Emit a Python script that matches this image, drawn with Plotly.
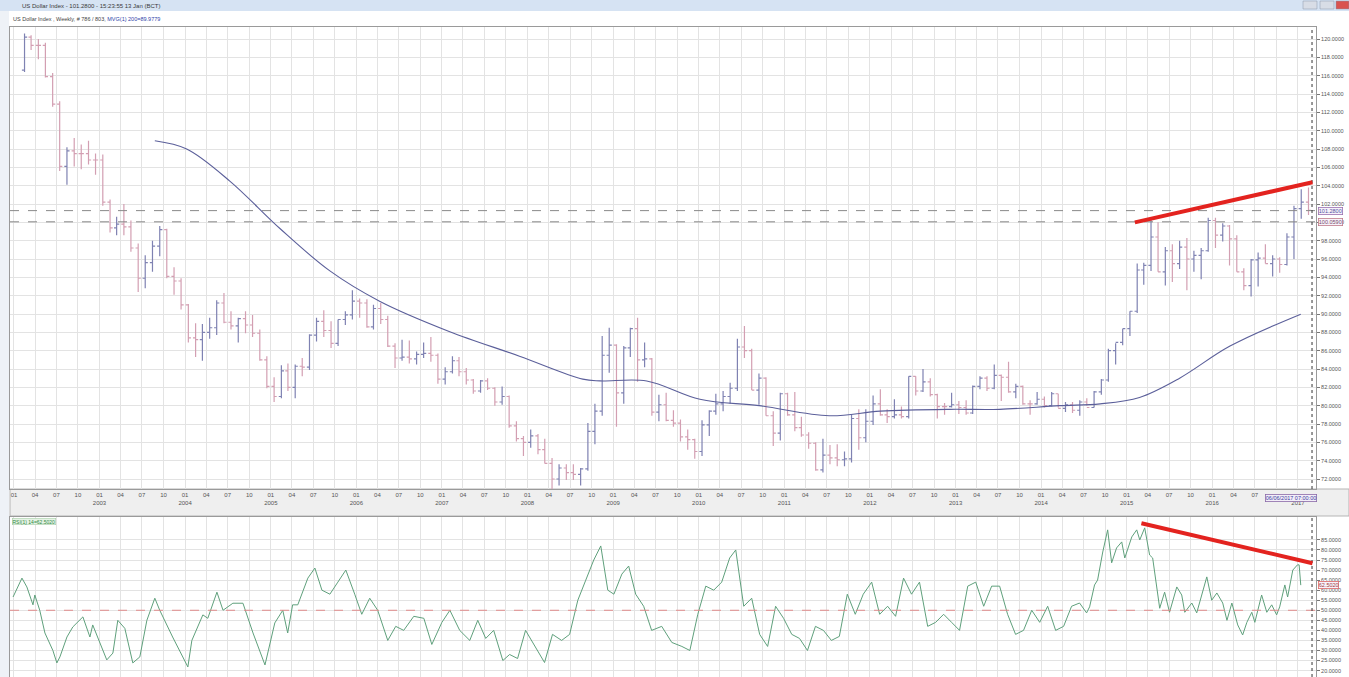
import plotly.graph_objects as go
import pandas as pd

W, H = 1349, 677
ML, MR = 10, 33

# ---------------- data ----------------
# monthly OHLC of the US Dollar Index, Jan 2002 .. Jan 2017
price_open = [
    116.6,120.2,119.3,119.3,115.9,112.9,106.1,107.8,107.5,107.5,106.8,106.8,
    102.2,99.4,99.8,99.5,97.2,93.9,95.6,97.4,99.2,94.1,93.6,91.0,
    87.4,87.2,88.0,88.5,91.2,89.1,88.7,89.5,88.8,87.9,85.0,82.1,
    81.0,83.8,82.0,84.3,84.2,87.7,89.2,88.2,86.8,89.4,89.9,91.4,
    91.2,88.6,90.6,89.4,86.5,85.2,85.3,85.1,85.6,85.7,85.5,82.9,
    83.7,84.9,83.7,82.8,81.6,82.7,81.9,80.4,81.0,77.8,76.4,76.0,
    76.7,75.2,73.7,72.0,73.2,72.7,72.5,73.1,77.2,79.4,85.5,86.6,
    81.4,86.3,88.4,85.0,85.1,79.3,80.1,78.4,78.1,76.6,76.3,75.0,
    77.9,79.4,80.2,81.0,81.9,86.4,86.0,81.7,83.0,78.9,77.0,81.3,
    79.0,77.6,76.8,75.9,73.0,74.6,74.3,74.1,74.2,78.6,76.5,78.3,
    80.2,79.0,78.8,79.0,78.8,83.2,81.6,82.6,81.2,79.9,79.9,80.1,
    79.8,79.2,82.1,83.0,81.9,83.3,83.1,81.5,82.1,80.2,80.2,80.7,
    80.0,81.3,79.7,80.1,79.5,80.4,79.8,81.5,82.8,86.0,86.9,88.4,
    90.3,94.8,95.3,98.4,94.6,96.9,95.5,97.3,96.0,96.4,96.9,100.2,
    98.6,99.6,98.2,94.6,93.1,95.9,96.1,95.5,96.0,95.4,98.4,101.5,
    102.2]
price_high = [
    120.6,120.4,120.0,119.6,116.3,113.2,108.2,109.2,108.5,108.9,107.5,107.4,
    102.5,100.6,102.0,100.2,97.7,96.4,98.0,99.6,99.3,95.1,93.9,91.1,
    89.0,88.9,89.6,91.5,92.3,90.3,89.6,90.3,89.9,88.3,85.4,83.1,
    84.4,84.6,84.5,85.2,87.8,89.6,90.4,89.2,89.4,90.3,92.6,91.7,
    91.6,91.0,91.2,89.8,86.8,87.2,87.1,85.9,86.9,87.5,85.7,84.2,
    85.4,85.3,84.1,82.9,82.8,83.0,82.0,82.1,81.1,78.3,76.7,77.4,
    76.9,76.4,74.3,73.6,73.6,73.6,73.2,78.1,80.2,87.6,88.5,86.7,
    86.5,88.5,89.6,86.9,85.2,81.2,81.4,79.5,78.5,77.4,76.4,78.4,
    79.5,81.3,81.6,82.5,87.3,88.7,86.2,83.5,83.1,79.4,81.4,81.4,
    81.5,78.8,77.1,76.0,76.4,75.7,75.8,75.0,79.0,79.6,79.6,81.1,
    81.8,79.6,80.7,79.9,83.2,83.2,84.0,83.0,81.3,80.3,81.4,80.5,
    80.6,82.2,83.2,83.2,84.5,83.4,84.8,82.4,82.2,80.6,81.5,81.0,
    81.5,81.3,80.4,80.4,80.6,80.8,81.6,82.9,86.2,86.8,88.4,90.3,
    95.5,95.6,100.4,100.0,97.3,97.6,98.0,98.3,96.9,97.2,100.5,100.5,
    99.9,99.7,98.6,95.0,96.0,96.7,97.6,96.4,96.2,98.8,101.8,103.6,
    103.8]
price_low = [
    116.4,118.8,117.8,115.8,112.6,105.6,104.1,106.1,105.8,106.3,105.2,101.8,
    98.9,98.6,98.6,96.8,92.4,92.8,94.6,96.3,93.9,92.1,90.5,86.9,
    85.3,84.9,87.3,87.7,89.0,88.3,86.9,87.9,87.5,84.9,81.9,80.4,
    80.8,81.6,80.8,83.2,83.9,87.0,87.5,86.3,86.5,88.8,89.4,89.6,
    88.5,88.3,88.9,86.4,84.1,84.9,84.6,84.5,85.2,84.8,82.4,82.3,
    83.5,83.2,82.3,81.3,81.4,81.7,80.0,80.1,77.6,76.1,74.5,75.4,
    74.7,73.7,70.7,71.3,71.9,71.9,71.3,72.9,75.8,78.9,83.6,77.7,
    80.2,85.3,82.6,84.2,78.9,78.3,78.3,77.7,76.1,75.2,74.2,74.5,
    76.7,79.0,79.4,80.2,81.6,85.2,81.7,80.1,78.9,75.6,76.2,78.9,
    77.2,76.6,75.3,72.9,72.7,73.6,73.4,73.4,73.8,75.2,76.0,77.9,
    78.9,78.1,78.6,78.6,78.6,81.1,81.5,81.0,78.6,79.0,79.8,79.1,
    79.0,79.1,81.8,81.6,81.8,80.5,81.4,80.8,80.1,79.0,80.1,79.8,
    79.9,79.8,79.3,79.2,78.9,80.0,79.8,81.2,82.6,84.5,86.6,87.6,
    90.1,93.2,94.7,94.6,93.1,93.5,94.9,92.6,94.6,93.8,96.8,97.2,
    97.9,95.3,94.6,92.6,91.9,93.0,95.5,94.1,94.5,95.3,96.0,100.4,
    100.8]
price_close = [
    120.2,119.3,119.3,115.9,112.9,106.1,107.8,107.5,107.5,106.8,106.8,102.2,
    99.4,99.8,99.5,97.2,93.9,95.6,97.4,99.2,94.1,93.6,91.0,87.4,
    87.2,88.0,88.5,91.2,89.1,88.7,89.5,88.8,87.9,85.0,82.1,81.0,
    83.8,82.0,84.3,84.2,87.7,89.2,88.2,86.8,89.4,89.9,91.4,91.2,
    88.6,90.6,89.4,86.5,85.2,85.3,85.1,85.6,85.7,85.5,82.9,83.7,
    84.9,83.7,82.8,81.6,82.7,81.9,80.4,81.0,77.8,76.4,76.0,76.7,
    75.2,73.7,72.0,73.2,72.7,72.5,73.1,77.2,79.4,85.5,86.6,81.4,
    86.3,88.4,85.0,85.1,79.3,80.1,78.4,78.1,76.6,76.3,75.0,77.9,
    79.4,80.2,81.0,81.9,86.4,86.0,81.7,83.0,78.9,77.0,81.3,79.0,
    77.6,76.8,75.9,73.0,74.6,74.3,74.1,74.2,78.6,76.5,78.3,80.2,
    79.0,78.8,79.0,78.8,83.2,81.6,82.6,81.2,79.9,79.9,80.1,79.8,
    79.2,82.1,83.0,81.9,83.3,83.1,81.5,82.1,80.2,80.2,80.7,80.0,
    81.3,79.7,80.1,79.5,80.4,79.8,81.5,82.8,86.0,86.9,88.4,90.3,
    94.8,95.3,98.4,94.6,96.9,95.5,97.3,96.0,96.4,96.9,100.2,98.6,
    99.6,98.2,94.6,93.1,95.9,96.1,95.5,96.0,95.4,98.4,101.5,102.2,
    101.3]
bar_dates = pd.date_range("2002-01-15", periods=len(price_close), freq="MS") + pd.Timedelta(days=14)

# 200-week moving average
ma_dates = ["2003-08-25","2004-01-08","2004-07-10","2005-02-10","2005-09-10","2006-04-10",
            "2007-02-01","2007-11-28","2008-08-24","2008-11-05","2009-05-24","2010-01-06",
            "2010-09-16","2011-07-12","2012-02-14","2012-12-06","2013-07-08","2014-03-20",
            "2014-09-10","2015-02-25","2015-08-15","2016-03-17","2017-01-13"]
ma_values = [108.9,108.0,104.5,99.3,94.7,91.4,88.1,85.4,82.9,82.7,82.7,80.7,
             80.0,78.9,79.4,79.6,79.6,80.0,80.2,80.9,83.0,86.5,89.98]

# RSI(14)
rsi_dates = [
 "2001-12-28","2002-02-04","2002-02-25","2002-03-23","2002-03-31","2002-04-21","2002-05-13","2002-06-16",
 "2002-07-03","2002-07-16","2002-08-15","2002-09-09","2002-10-22","2002-11-21","2002-12-03","2003-02-01",
 "2003-02-27","2003-03-20","2003-04-19","2003-05-23","2003-06-22","2003-07-22","2003-08-25","2003-09-15",
 "2003-11-09","2004-01-13","2004-01-30","2004-03-17","2004-04-07","2004-05-16","2004-06-11","2004-07-23",
 "2004-09-04","2004-10-17","2004-12-07","2004-12-28","2005-01-18","2005-02-21","2005-03-14","2005-04-04",
 "2005-04-26","2005-06-08","2005-07-08","2005-08-07","2005-09-10","2005-10-14","2005-11-17","2005-12-25",
 "2006-01-24","2006-02-27","2006-04-02","2006-05-15","2006-06-18","2006-07-22","2006-09-03","2006-10-16",
 "2006-11-19","2007-01-01","2007-02-04","2007-03-18","2007-04-30","2007-06-03","2007-07-07","2007-08-10",
 "2007-09-18","2007-10-17","2007-11-20","2007-12-24","2008-02-01","2008-03-14","2008-04-17","2008-05-26",
 "2008-06-29","2008-08-03","2008-09-06","2008-10-10","2008-11-09","2008-12-09","2009-01-04","2009-02-07",
 "2009-03-08","2009-04-07","2009-05-11","2009-06-14","2009-07-27","2009-09-08","2009-10-21","2009-11-24",
 "2009-12-28","2010-01-31","2010-03-06","2010-04-09","2010-05-13","2010-06-08","2010-07-12","2010-08-15",
 "2010-09-18","2010-10-22","2010-11-25","2010-12-29","2011-02-02","2011-03-07","2011-04-10","2011-05-14",
 "2011-06-17","2011-07-21","2011-08-24","2011-09-27","2011-10-31","2011-12-04","2012-01-09","2012-02-12",
 "2012-03-17","2012-04-20","2012-05-24","2012-06-27","2012-07-31","2012-09-04","2012-10-08","2012-11-11",
 "2012-12-15","2013-01-18","2013-02-22","2013-03-28","2013-05-01","2013-06-04","2013-07-08","2013-08-11",
 "2013-09-14","2013-10-18","2013-11-22","2013-12-26","2014-01-29","2014-03-04","2014-04-07","2014-05-11",
 "2014-06-14","2014-07-14","2014-07-27","2014-08-17","2014-08-30","2014-09-21","2014-10-12","2014-10-29",
 "2014-11-19","2014-12-11","2014-12-24","2015-01-23","2015-02-13","2015-02-26","2015-03-19","2015-04-09",
 "2015-04-22","2015-05-22","2015-06-12","2015-07-03","2015-08-03","2015-08-24","2015-09-06","2015-10-06",
 "2015-10-27","2015-12-09","2015-12-30","2016-01-21","2016-02-15","2016-03-04","2016-03-25","2016-04-19",
 "2016-05-10","2016-05-28","2016-06-18","2016-07-01","2016-07-30","2016-08-21","2016-09-11","2016-10-02",
 "2016-10-15","2016-11-06","2016-11-18","2016-12-10","2016-12-30","2017-01-06","2017-01-13"]
rsi_values = [
 56.6,66,61.6,52.7,57.6,50,38.7,30,
 23.8,26.8,36.7,41.7,46.7,36.7,42.7,25.3,
 28.7,45,41,23.8,26.8,45,56,50,
 36.7,21.8,35,47.7,46,59,50,53.5,
 53.5,38.7,22.8,33.7,43.7,50,38.7,52.7,
 52.7,66,71,60,58,64,70,58,
 48,56,50,35,42,40,47,46,
 33,44,50,40,35,45,36,40,
 25,28,26,40,32,24,38,35,
 38,55,65,75,82,60,58,68,
 72,58,52,40,42,34,32,30,
 48,62,60,64,76,80,52,56,
 38,32,52,46,38,36,30,42,
 40,35,37,58,48,58,64,48,
 52,47,66,58,64,42,44,48,
 44,40,62,64,52,62,62,48,
 38,40,50,44,52,40,42,52,
 53.6,48.7,51.7,62.6,65,79,90,73.6,
 81,84,76,86.5,90,85,91,77.5,
 76,51,59,49,61.6,57.6,49,53.6,
 48.7,66.6,55,58.6,53.6,45,53.6,42.7,
 37.7,44,49,44,57.6,49,52.7,47.7,
 51.7,62.6,56.6,70,72.6,72.6,62.5]

price_ticks = list(range(72, 121, 2))
rsi_ticks = list(range(20, 86, 5))
quarter_ticks = pd.date_range("2002-01-01", "2017-01-01", freq="QS")
hidden_ticks = {"2016-10", "2017-01"}   # covered by the cursor-date box in the original
quarter_text = []
for d in quarter_ticks:
    m = f"{d.month:02d}"
    if d.strftime("%Y-%m") in hidden_ticks:
        m = " "
    if d.month == 1 and d.year > 2002:
        quarter_text.append(f"{m}<br>{d.year}")
    else:
        quarter_text.append(m)

last_price = 101.28
prev_level = 100.059
last_rsi = 62.502

# ---------------- helpers (pixel -> paper) ----------------
PW = W - ML - MR
def px(x):
    return (x - ML) / PW
def py(y):
    return (H - y) / H

FONT = "Liberation Sans"
GRID = "#e3e3e3"

fig = go.Figure()

fig.add_trace(go.Ohlc(
    x=bar_dates, open=price_open, high=price_high, low=price_low, close=price_close,
    increasing=dict(line=dict(color="#7f82b2", width=1.2)),
    decreasing=dict(line=dict(color="#d39fb2", width=1.2)),
    tickwidth=0.4, xaxis="x", yaxis="y", showlegend=False, hoverinfo="skip"))

fig.add_trace(go.Scatter(
    x=ma_dates, y=ma_values, mode="lines", line=dict(color="#5b5f9a", width=1.1, shape="spline"),
    xaxis="x", yaxis="y", showlegend=False, hoverinfo="skip"))

fig.add_trace(go.Scatter(
    x=rsi_dates, y=rsi_values, mode="lines", line=dict(color="#5fa07c", width=1),
    xaxis="x2", yaxis="y2", showlegend=False, hoverinfo="skip"))

x_range = ["2001-12-15", "2017-03-19"]
main_dom = [py(489), py(27)]
low_dom = [0, py(517)]

fig.update_layout(
    width=W, height=H,
    margin=dict(l=ML, r=MR, t=0, b=0),
    paper_bgcolor="white", plot_bgcolor="white",
    font=dict(family=FONT, size=6, color="#555"),
    xaxis=dict(domain=[0, 1], anchor="y", range=x_range, type="date",
               tickmode="array", tickvals=quarter_ticks, ticktext=quarter_text,
               tickangle=0, tickfont=dict(size=6, color="#555"), ticks="",
               showgrid=True, gridcolor=GRID, gridwidth=1, zeroline=False,
               showline=True, linecolor="#9a9a9a", mirror=True,
               rangeslider=dict(visible=False)),
    yaxis=dict(domain=main_dom, anchor="x", side="right", range=[70.91, 121.31],
               tickmode="array", tickvals=price_ticks, ticktext=[f"{v:.4f}" for v in price_ticks],
               ticks="outside", ticklen=3, tickcolor="#777", tickfont=dict(size=5.5, color="#555"),
               showgrid=True, gridcolor=GRID, zeroline=False,
               showline=True, linecolor="#9a9a9a", mirror=True),
    xaxis2=dict(domain=[0, 1], anchor="y2", range=x_range, type="date", matches="x",
                tickmode="array", tickvals=quarter_ticks, showticklabels=False, ticks="",
                showgrid=True, gridcolor=GRID, zeroline=False,
                showline=True, linecolor="#9a9a9a", mirror=True),
    yaxis2=dict(domain=low_dom, anchor="x2", side="right", range=[16.8, 96.4],
                tickmode="array", tickvals=rsi_ticks, ticktext=[f"{v:.4f}" for v in rsi_ticks],
                ticks="outside", ticklen=3, tickcolor="#777", tickfont=dict(size=5.5, color="#555"),
                showgrid=True, gridcolor=GRID, zeroline=False,
                showline=True, linecolor="#9a9a9a", mirror=True),
)

shapes = []
# window title bar
shapes.append(dict(type="rect", xref="paper", yref="paper", x0=px(0), x1=px(W), y0=py(11), y1=py(0),
                   fillcolor="#d6e3f3", line=dict(width=0), layer="below"))
for (a, b, c) in [(1303, 1317, "#d8dde6"), (1320, 1334, "#d8dde6"), (1336, 1349, "#d9534f")]:
    shapes.append(dict(type="rect", xref="paper", yref="paper", x0=px(a), x1=px(b), y0=py(9), y1=py(1),
                       fillcolor=c, line=dict(color="#8a96a8", width=0.5), layer="below"))
# left window strip
shapes.append(dict(type="rect", xref="paper", yref="paper", x0=px(0), x1=px(9), y0=0, y1=py(11),
                   fillcolor="#eef2f7", line=dict(width=0), layer="below"))
# x-axis band
shapes.append(dict(type="rect", xref="paper", yref="paper", x0=0, x1=px(W), y0=py(516), y1=py(489),
                   fillcolor="#efefef", line=dict(color="#b5b5b5", width=1), layer="below"))
# dashed price levels
for lvl in (last_price, prev_level):
    shapes.append(dict(type="line", xref="paper", yref="y", x0=0, x1=1, y0=lvl, y1=lvl,
                       line=dict(color="#8a8a8a", width=1, dash="dash")))
# RSI 50 line
shapes.append(dict(type="line", xref="paper", yref="y2", x0=0, x1=1, y0=50, y1=50,
                   line=dict(color="#e08a8a", width=1, dash="dash")))
# vertical current-time line
for yr, d in (("y", [70.91, 121.31]), ("y2", [16.8, 96.4])):
    shapes.append(dict(type="line", xref="x", yref=yr, x0="2017-03-02", x1="2017-03-02", y0=d[0], y1=d[1],
                       line=dict(color="#333", width=1, dash="dot")))
# red trend lines
shapes.append(dict(type="line", xref="x", yref="y", x0="2015-02-05", y0=100.0, x1="2017-03-04", y1=104.37,
                   line=dict(color="#e3231f", width=4)))
shapes.append(dict(type="line", xref="x2", yref="y2", x0="2015-03-05", y0=93.3, x1="2017-03-04", y1=73.4,
                   line=dict(color="#e3231f", width=4)))
fig.update_layout(shapes=shapes)

ann = []
ann.append(dict(xref="paper", yref="paper", x=px(20), y=py(5.5), xanchor="left", yanchor="middle",
                text="US Dollar Index - 101.2800 - 15:23:55 13 Jan (BCT)", showarrow=False,
                font=dict(size=6, color="#3a3a3a", family=FONT)))
ann.append(dict(xref="paper", yref="paper", x=px(11), y=py(19), xanchor="left", yanchor="middle",
                text="US Dollar Index , Weekly, # 786 / 803, <span style='color:#2f3fa8'>MVG(1) 200=89.9779</span>",
                showarrow=False, font=dict(size=5.5, color="#444", family=FONT)))
ann.append(dict(xref="paper", yref="paper", x=px(12), y=py(521.5), xanchor="left", yanchor="middle",
                text="RSI(1) 14=62.5020", showarrow=False, bgcolor="#e6f3e6", bordercolor="#9cc79c",
                borderwidth=0.5, borderpad=0, font=dict(size=5, color="#2e8a3e", family=FONT)))
for val, y_ref, col, bcol in ((last_price, "y", "#5050a0", "#9a70b0"),
                              (prev_level, "y", "#7a4a6a", "#c07a8a"),
                              (last_rsi, "y2", "#a03a3a", "#e06a6a")):
    ann.append(dict(xref="paper", yref=y_ref, x=1, y=val, xanchor="left", yanchor="middle", xshift=2,
                    text=f"{val:.4f}", showarrow=False, bgcolor="#f7f2fa", bordercolor=bcol,
                    borderwidth=0.8, borderpad=0, font=dict(size=5.5, color=col, family=FONT)))
ann.append(dict(xref="paper", yref="paper", x=px(1317), y=py(498), xanchor="right", yanchor="middle",
                text="06/06/2017 07:00:00", showarrow=False, bgcolor="#f3eef8", bordercolor="#8a6aa8",
                borderwidth=0.8, borderpad=0, font=dict(size=5.5, color="#3a3aa0", family=FONT)))
fig.update_layout(annotations=ann)

fig.write_html("out.html", config={"displayModeBar": False},
               post_script="document.body.style.margin='0px';document.body.style.overflow='hidden';")
